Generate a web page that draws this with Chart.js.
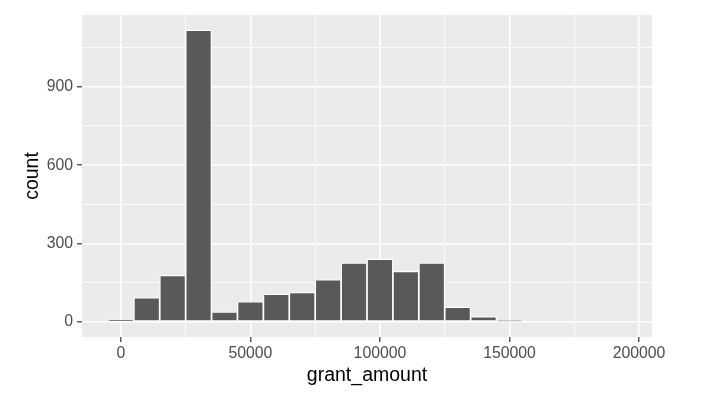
<!DOCTYPE html>
<html>
<head>
<meta charset="utf-8">
<script src="https://cdn.jsdelivr.net/npm/chart.js@4.4.1/dist/chart.umd.min.js"></script>
<style>
  html, body { margin: 0; padding: 0; background: #ffffff; }
  #wrap { width: 705px; height: 409px; }
</style>
</head>
<body>
<div id="wrap"><canvas id="hist"></canvas></div>
<script>
// histogram bins (centre of each 10000-wide bin) and counts
const binCenters = [0, 10000, 20000, 30000, 40000, 50000, 60000, 70000, 80000, 90000,
                    100000, 110000, 120000, 130000, 140000, 150000, 160000, 170000, 180000, 190000];
const counts = [8, 93, 178, 1117, 38, 77, 106, 113, 162, 226,
                240, 193, 226, 56, 20, 4, 0, 0, 0, 0];

// axis breaks
const xMajor = [0, 50000, 100000, 150000, 200000];
const xMinor = [25000, 75000, 125000, 175000];
const yMajor = [0, 300, 600, 900];
const yMinor = [150, 450, 750, 1050];

const FONT = "'Liberation Sans', Arial, Helvetica, sans-serif";

// grey panel behind the grid
const panelBg = {
    id: 'panelBg',
    beforeDraw(chart) {
        const a = chart.chartArea;
        const ctx = chart.ctx;
        ctx.save();
        ctx.fillStyle = '#EBEBEB';
        ctx.fillRect(a.left, a.top, a.right - a.left, a.bottom - a.top);
        ctx.restore();
    }
};

function setTicks(major, minor) {
    return function (scale) {
        const all = major.concat(minor).filter(v => v >= scale.min && v <= scale.max);
        all.sort((a, b) => a - b);
        scale.ticks = all.map(v => ({ value: v, major: major.includes(v) }));
    };
}

const isMajor = (list) => (ctx) => ctx.tick && list.includes(ctx.tick.value);

new Chart(document.getElementById('hist'), {
    type: 'bar',
    data: {
        datasets: [{
            data: binCenters.map((x, i) => ({ x: x, y: counts[i] })),
            backgroundColor: '#595959',
            borderColor: '#ffffff',
            borderWidth: 1.2,
            borderSkipped: false,
            barPercentage: 1,
            categoryPercentage: 1
        }]
    },
    options: {
        responsive: true,
        maintainAspectRatio: false,
        animation: false,
        layout: { padding: { top: 15, right: 53, left: 0, bottom: 0 } },
        plugins: {
            legend: { display: false },
            tooltip: { enabled: false }
        },
        scales: {
            x: {
                type: 'linear',
                min: -15000,
                max: 205000,
                offset: false,
                afterBuildTicks: setTicks(xMajor, xMinor),
                afterFit(scale) { scale.height = 72; },
                border: { display: false },
                grid: {
                    offset: false,
                    color: '#ffffff',
                    lineWidth: (ctx) => isMajor(xMajor)(ctx) ? 1.6 : 0.8,
                    tickColor: (ctx) => isMajor(xMajor)(ctx) ? '#333333' : 'rgba(0,0,0,0)',
                    tickLength: 5,
                    tickWidth: 1.2
                },
                ticks: {
                    autoSkip: false,
                    maxRotation: 0,
                    padding: 2,
                    color: '#4D4D4D',
                    font: { family: FONT, size: 15.8 },
                    callback: (v) => xMajor.includes(v) ? String(v) : ''
                },
                title: {
                    display: true,
                    text: 'grant_amount',
                    color: '#000000',
                    font: { family: FONT, size: 19.5 },
                    padding: { top: 0, bottom: 22 }
                }
            },
            y: {
                min: -58,
                max: 1175,
                afterBuildTicks: setTicks(yMajor, yMinor),
                afterFit(scale) { scale.width = 82; },
                border: { display: false },
                grid: {
                    color: '#ffffff',
                    lineWidth: (ctx) => isMajor(yMajor)(ctx) ? 1.6 : 0.8,
                    tickColor: (ctx) => isMajor(yMajor)(ctx) ? '#333333' : 'rgba(0,0,0,0)',
                    tickLength: 5,
                    tickWidth: 1.2
                },
                ticks: {
                    autoSkip: false,
                    padding: 4,
                    color: '#4D4D4D',
                    font: { family: FONT, size: 15.8 },
                    callback: (v) => yMajor.includes(v) ? String(v) : ''
                },
                title: {
                    display: true,
                    text: 'count',
                    color: '#000000',
                    font: { family: FONT, size: 19.5 },
                    padding: { top: 21, bottom: 0 }
                }
            }
        }
    },
    plugins: [panelBg]
});
</script>
</body>
</html>
